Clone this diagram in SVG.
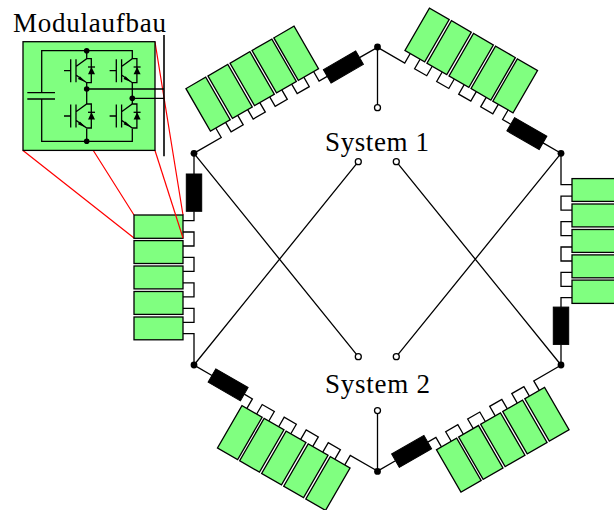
<svg xmlns="http://www.w3.org/2000/svg" xmlns:xlink="http://www.w3.org/1999/xlink" width="614" height="510" viewBox="0 0 614 510">
<style>
.w{fill:none;stroke:#000;stroke-width:1.3}
.m{fill:#80ff80;stroke:#000;stroke-width:1.3}
.k{fill:#000;stroke:#000;stroke-width:1}
.o{fill:#fff;stroke:#000;stroke-width:1.3}
.d{fill:#000}
.r{fill:none;stroke:#f00;stroke-width:1.2}
.t{font-family:"Liberation Serif","Times New Roman",serif;font-size:27px;fill:#000}
</style>
<defs>
<g id="modules">
<rect class="m" x="134" y="215" width="49" height="23.3"/>
<rect class="m" x="134" y="240.6" width="49" height="22.9"/>
<rect class="m" x="134" y="266" width="49" height="22.9"/>
<rect class="m" x="134" y="291.5" width="49" height="22.9"/>
<rect class="m" x="134" y="317" width="49" height="22.8"/>
</g>
<rect id="inductor" class="k" x="186.3" y="174" width="15.4" height="37.3"/>
<path id="wire" class="w" d="M194 153.3V174M194 211.3V220.7H183M183 232H194V246H183M183 257.4H194V271.4H183M183 282.8H194V296.8H183M183 308.3H194V322.3H183M183 333.7H194V365"/>
<g id="igbt">
<path class="w" d="M64 70.7H70.7M70.7 59.3V82.3M76 59.3V82.3M76 66.5L86.7 58.7H91.3V82.7H86.7L76 75"/>
<path class="d" d="M85.8 82.2L79.9 76.2L77.9 79Z"/>
<path class="d" d="M91.5 67L88 74.3H95Z"/>
<path class="w" d="M88 67H95"/>
</g>
</defs>
<g id="connectors">
<use href="#wire"/>
<use href="#wire" transform="rotate(60 377.5 259.2)"/>
<use href="#wire" transform="rotate(120 377.5 259.2)"/>
<use href="#wire" transform="rotate(180 377.5 259.2)"/>
<use href="#wire" transform="rotate(240 377.5 259.2)"/>
<use href="#wire" transform="rotate(300 377.5 259.2)"/>
<path class="w" d="M377.5 47V105M377.5 471.4V413.3M194 153.3L358.3 356.7M561 153.3L396.3 356.7M194 365L358.3 161.7M561 365L396.3 161.7"/>
<path class="r" d="M155 42L183 215M23 150.5L134 238M93.3 150.5L134 215"/>
</g>
<g id="string-left"><use href="#modules"/><use href="#inductor"/></g>
<g id="string-top-left" transform="rotate(60 377.5 259.2)"><use href="#modules"/><use href="#inductor"/></g>
<g id="string-top-right" transform="rotate(120 377.5 259.2)"><use href="#modules"/><use href="#inductor"/></g>
<g id="string-right" transform="rotate(180 377.5 259.2)"><use href="#modules"/><use href="#inductor"/></g>
<g id="string-bottom-right" transform="rotate(240 377.5 259.2)"><use href="#modules"/><use href="#inductor"/></g>
<g id="string-bottom-left" transform="rotate(300 377.5 259.2)"><use href="#modules"/><use href="#inductor"/></g>
<path class="r" d="M155 150.5L183 238"/>
<g id="junctions">
<circle class="d" cx="377.5" cy="47" r="3.4"/>
<circle class="d" cx="561" cy="153.3" r="3.4"/>
<circle class="d" cx="561" cy="365" r="3.4"/>
<circle class="d" cx="377.5" cy="471.4" r="3.4"/>
<circle class="d" cx="194" cy="365" r="3.4"/>
<circle class="d" cx="194" cy="153.3" r="3.4"/>
</g>
<g id="terminals">
<circle class="o" cx="377.5" cy="107.7" r="3"/>
<circle class="o" cx="358.3" cy="161.7" r="3"/>
<circle class="o" cx="396.3" cy="161.7" r="3"/>
<circle class="o" cx="358.3" cy="356.7" r="3"/>
<circle class="o" cx="396.3" cy="356.7" r="3"/>
<circle class="o" cx="377.5" cy="410.6" r="3"/>
</g>
<g id="module-detail">
<rect class="m" x="23" y="41.7" width="132" height="108.7"/>
<path class="w" d="M41.7 92.7V50.7H132.3V58.7M41.7 99V141.3H132.3V128.7M86.7 50.7V58.7M86.7 82.7V104M132.3 82.7V104M86.7 128.7V141.3M27.3 92.7H55M27.3 99H55M86.7 89H164M132.3 98.3H164"/>
<use href="#igbt"/>
<use href="#igbt" transform="translate(45.6 0)"/>
<use href="#igbt" transform="translate(0 45.3)"/>
<use href="#igbt" transform="translate(45.6 45.3)"/>
<circle class="d" cx="86.7" cy="50.7" r="2.8"/>
<circle class="d" cx="86.7" cy="89" r="2.8"/>
<circle class="d" cx="132.3" cy="98.3" r="2.8"/>
<circle class="d" cx="86.7" cy="141.3" r="2.8"/>
<path d="M164 35V156.3" fill="none" stroke="#000" stroke-width="1.6"/>
</g>
<text class="t" x="13" y="32" textLength="153" lengthAdjust="spacing">Modulaufbau</text>
<text class="t" x="325" y="151" textLength="104" lengthAdjust="spacing">System 1</text>
<text class="t" x="325" y="393" textLength="105" lengthAdjust="spacing">System 2</text>
</svg>
